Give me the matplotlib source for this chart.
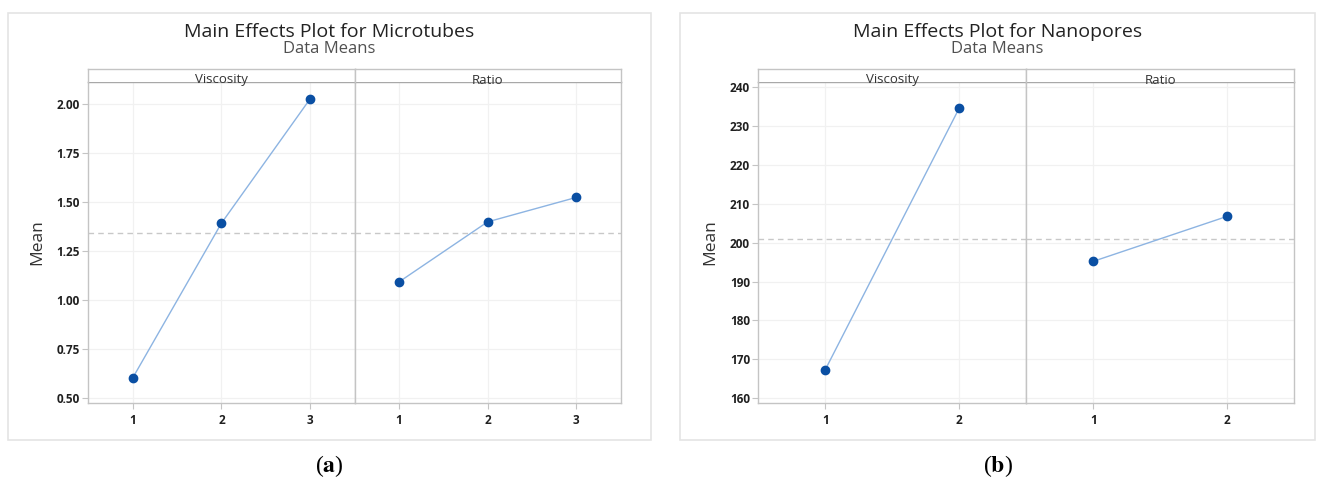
import numpy as np
import matplotlib
matplotlib.use('Agg')
import matplotlib.pyplot as plt
from matplotlib.patches import Rectangle

# data
factors = ["Viscosity", "Ratio"]

micro_visc_levels = [1, 2, 3]
micro_visc_means = [0.60, 1.39, 2.025]
micro_ratio_levels = [1, 2, 3]
micro_ratio_means = [1.09, 1.397, 1.522]
micro_grand_mean = 1.34
micro_yticks = [0.50, 0.75, 1.00, 1.25, 1.50, 1.75, 2.00]

nano_visc_levels = [1, 2]
nano_visc_means = [167.3, 234.7]
nano_ratio_levels = [1, 2]
nano_ratio_means = [195.2, 206.8]
nano_grand_mean = 201.0
nano_yticks = [160, 170, 180, 190, 200, 210, 220, 230, 240]

W, H = 1322, 486
plt.rcParams['font.family'] = ['Open Sans', 'DejaVu Sans']
plt.rcParams['mathtext.fontset'] = 'stix'

fig = plt.figure(figsize=(W / 100, H / 100), dpi=100)

LINE_C = '#8db4e2'
DOT_C = '#0a4fa3'
FRAME_C = '#c4c4c4'
GRID_C = '#f1f1f1'


def fx(px):
    return px / W


def fy(py):
    return 1 - py / H


def panel(x0, x1, ylim, yticks, yfmt, series, grand, title, box, caption):
    # outer light box
    bx0, bx1 = box
    fig.patches.append(Rectangle((fx(bx0), fy(440)), fx(bx1 - bx0), (440 - 13) / H,
                                 transform=fig.transFigure, fill=False,
                                 edgecolor='#e4e4e4', lw=1.2))
    cx = (bx0 + bx1) / 2
    fig.text(fx(cx), fy(32), title, ha='center', va='center', fontsize=14,
             color='#222222')
    fig.text(fx(cx), fy(49), "Data Means", ha='center', va='center', fontsize=12,
             color='#505050')
    fig.text(fx(cx), fy(466), r"($\mathbf{%s}$)" % caption, ha='center', va='center',
             fontsize=17, family='Liberation Serif', color='black')

    xm = (x0 + x1) / 2
    edges = [(x0, xm), (xm, x1)]
    for i, (name, (lv, mv)) in enumerate(zip(factors, series)):
        a, b = edges[i]
        ax = fig.add_axes([fx(a), fy(403), fx(b - a), (403 - 82) / H])
        ax.set_xlim(0.5, len(lv) + 0.5)
        ax.set_ylim(*ylim)
        ax.set_xticks(lv)
        ax.set_xticklabels([str(v) for v in lv])
        ax.set_yticks(yticks)
        ax.grid(True, color=GRID_C, lw=0.9)
        ax.set_axisbelow(True)
        ax.axhline(grand, color='#c8c8c8', lw=1.0, dashes=(4, 3), zorder=1)
        ax.plot(lv, mv, color=LINE_C, lw=1.0, zorder=2)
        ax.plot(lv, mv, 'o', color=DOT_C, ms=6, zorder=3)
        for s in ax.spines.values():
            s.set_color(FRAME_C)
            s.set_linewidth(1.0)
        ax.spines['top'].set_color('#a8a8a8')
        ax.tick_params(axis='x', length=4, color=FRAME_C, labelsize=8.5,
                       labelcolor='#202020', pad=4)
        if i == 0:
            ax.set_yticklabels([yfmt % v for v in yticks])
            ax.tick_params(axis='y', length=4, color=FRAME_C, labelsize=8.5,
                           labelcolor='#202020', pad=2)
            ax.set_ylabel("Mean", fontsize=12.5, color='#333333', labelpad=8)
        else:
            ax.tick_params(axis='y', length=0, labelleft=False)
        for t in ax.get_xticklabels() + ax.get_yticklabels():
            t.set_fontweight('bold')

        # facet strip
        st = fig.add_axes([fx(a), fy(82), fx(b - a), (82 - 69) / H])
        st.set_xticks([])
        st.set_yticks([])
        st.set_facecolor('white')
        for s in st.spines.values():
            s.set_color(FRAME_C)
            s.set_linewidth(1.0)
        st.spines['bottom'].set_visible(False)
        fig.text(fx((a + b) / 2), fy(83.5), name, ha='center', va='baseline',
                 fontsize=9.5, color='#333333', zorder=5)


panel(88.3, 620.7, (0.4724, 2.111), micro_yticks, "%.2f",
      [(micro_visc_levels, micro_visc_means), (micro_ratio_levels, micro_ratio_means)],
      micro_grand_mean, "Main Effects Plot for Microtubes", (8, 651), 'a')

panel(758.3, 1294.3, (158.71, 241.39), nano_yticks, "%d",
      [(nano_visc_levels, nano_visc_means), (nano_ratio_levels, nano_ratio_means)],
      nano_grand_mean, "Main Effects Plot for Nanopores", (680, 1315), 'b')

fig.savefig("out.png", dpi=100)
